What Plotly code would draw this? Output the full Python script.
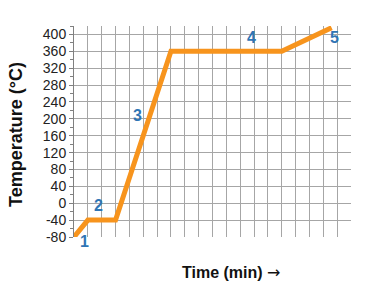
import plotly.graph_objects as go

# Data
time_min = [0, 1, 3, 7, 15, 18.6]
temperature = [-80, -40, -40, 360, 360, 416]
y_ticks = [-80, -40, 0, 40, 80, 120, 160, 200, 240, 280, 320, 360, 400]
phase_labels = ["1", "2", "3", "4", "5"]
phase_x = [0.75, 1.8, 4.6, 12.8, 18.8]
phase_y = [-91, -5, 208, 392, 392]

Y_MIN, Y_MAX = -80, 420
X_MIN, X_MAX = 0, 20

fig = go.Figure()
fig.add_trace(go.Scatter(
    x=time_min, y=temperature, mode="lines",
    line=dict(color="#F7941D", width=5), hoverinfo="skip", showlegend=False,
))

annotations = []
for lab, px, py in zip(phase_labels, phase_x, phase_y):
    annotations.append(dict(
        text="<b>%s</b>" % lab,
        x=(px - X_MIN) / (X_MAX - X_MIN), y=(py - Y_MIN) / (Y_MAX - Y_MIN),
        xref="paper", yref="paper", showarrow=False,
        font=dict(family="Liberation Sans, Arial", size=16, color="#2F75B5"),
        xanchor="center", yanchor="middle",
    ))

plot_w = 381 - 74 - 30
plot_h = 301 - 26 - 64
annotations.append(dict(
    text="<b>Time (min) </b><span style='font-family:DejaVu Sans'>→</span>",
    x=(231 - 74) / plot_w, y=(301 - 64 - 272) / plot_h,
    xref="paper", yref="paper", showarrow=False,
    xanchor="center", yanchor="middle",
    font=dict(size=16, color="#111111"),
))
annotations.append(dict(
    text="<b>Temperature (°C)</b>", textangle=-90,
    x=(16 - 74) / plot_w, y=(301 - 64 - 135) / plot_h,
    xref="paper", yref="paper", showarrow=False,
    xanchor="center", yanchor="middle",
    font=dict(size=18, color="#111111"),
))

fig.update_layout(
    width=381, height=301,
    margin=dict(l=74, r=30, t=26, b=64),
    paper_bgcolor="white", plot_bgcolor="white",
    font=dict(family="Liberation Sans, Arial", color="#222222"),
    xaxis=dict(
        range=[X_MIN, X_MAX], dtick=1, tick0=0, showticklabels=False,
        showgrid=True, gridcolor="#A6A6A6", gridwidth=1,
        zeroline=False, showline=False, fixedrange=True,
    ),
    yaxis=dict(
        range=[Y_MIN, Y_MAX], tickvals=y_ticks, ticktext=[str(v) for v in y_ticks],
        tickfont=dict(size=14, color="#222222"),
        showgrid=True, gridcolor="#A6A6A6", gridwidth=1,
        zeroline=False, showline=True, linecolor="#808080", linewidth=1,
        ticks="outside", ticklen=4, tickcolor="#808080",
        minor=dict(dtick=20, tick0=0, ticks="outside", ticklen=3,
                   tickcolor="#808080", showgrid=False),
        fixedrange=True,
    ),
    annotations=annotations,
)

fig.write_html("out.html")
